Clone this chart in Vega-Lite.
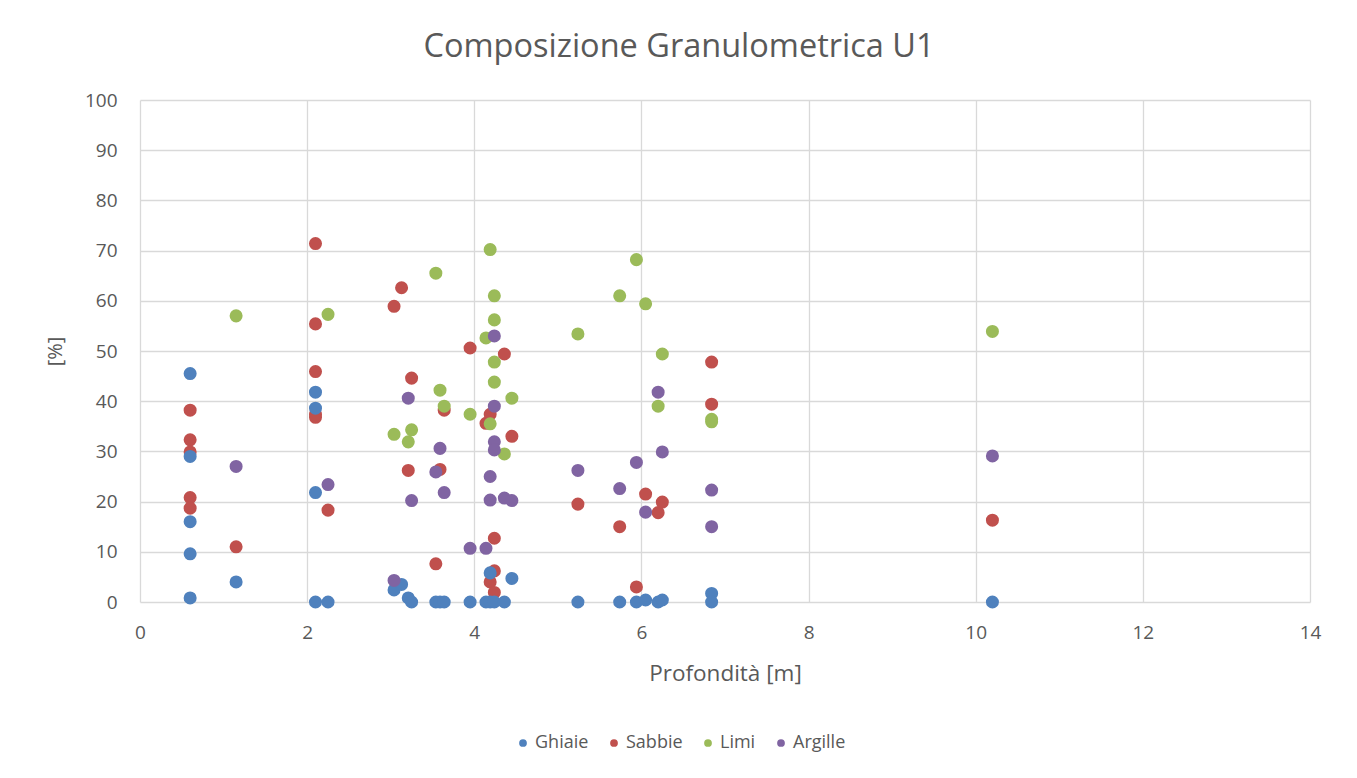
{
  "$schema": "https://vega.github.io/schema/vega-lite/v6.json",
  "autosize": {"type": "none"},
  "width": 1170,
  "height": 502,
  "padding": {"left": 140, "top": 100, "right": 47, "bottom": 176},
  "background": "white",
  "title": {"text": "Composizione Granulometrica U1", "font": "Open Sans", "fontSize": 32.5, "fontWeight": "normal", "color": "#595959", "anchor": "middle", "offset": 28, "dx": -46},
  "config": {
    "view": {"stroke": null},
    "font": "Open Sans",
    "axis": {"gridColor": "#d9d9d9", "gridWidth": 1.3, "domain": false, "ticks": false, "labelFlush": false, "labelColor": "#595959", "labelFontSize": 19, "titleColor": "#595959", "titleFontSize": 22.5, "titleFontWeight": "normal"}
  },
  "datasets": {
    "pts": [
      {"prof": 0.6, "pct": 45.5, "serie": "Ghiaie"},
      {"prof": 0.6, "pct": 29.0, "serie": "Ghiaie"},
      {"prof": 0.6, "pct": 16.0, "serie": "Ghiaie"},
      {"prof": 0.6, "pct": 9.6, "serie": "Ghiaie"},
      {"prof": 0.6, "pct": 0.8, "serie": "Ghiaie"},
      {"prof": 1.15, "pct": 4.0, "serie": "Ghiaie"},
      {"prof": 2.1, "pct": 41.8, "serie": "Ghiaie"},
      {"prof": 2.1, "pct": 38.6, "serie": "Ghiaie"},
      {"prof": 2.1, "pct": 21.8, "serie": "Ghiaie"},
      {"prof": 2.1, "pct": 0, "serie": "Ghiaie"},
      {"prof": 2.25, "pct": 0, "serie": "Ghiaie"},
      {"prof": 3.04, "pct": 2.4, "serie": "Ghiaie"},
      {"prof": 3.13, "pct": 3.5, "serie": "Ghiaie"},
      {"prof": 3.21, "pct": 0.8, "serie": "Ghiaie"},
      {"prof": 3.25, "pct": 0, "serie": "Ghiaie"},
      {"prof": 3.54, "pct": 0, "serie": "Ghiaie"},
      {"prof": 3.59, "pct": 0, "serie": "Ghiaie"},
      {"prof": 3.64, "pct": 0, "serie": "Ghiaie"},
      {"prof": 3.95, "pct": 0, "serie": "Ghiaie"},
      {"prof": 4.14, "pct": 0, "serie": "Ghiaie"},
      {"prof": 4.19, "pct": 5.8, "serie": "Ghiaie"},
      {"prof": 4.19, "pct": 0, "serie": "Ghiaie"},
      {"prof": 4.24, "pct": 0, "serie": "Ghiaie"},
      {"prof": 4.36, "pct": 0, "serie": "Ghiaie"},
      {"prof": 4.45, "pct": 4.7, "serie": "Ghiaie"},
      {"prof": 5.24, "pct": 0, "serie": "Ghiaie"},
      {"prof": 5.74, "pct": 0, "serie": "Ghiaie"},
      {"prof": 5.94, "pct": 0, "serie": "Ghiaie"},
      {"prof": 6.05, "pct": 0.4, "serie": "Ghiaie"},
      {"prof": 6.2, "pct": 0, "serie": "Ghiaie"},
      {"prof": 6.25, "pct": 0.4, "serie": "Ghiaie"},
      {"prof": 6.84, "pct": 1.7, "serie": "Ghiaie"},
      {"prof": 6.84, "pct": 0, "serie": "Ghiaie"},
      {"prof": 10.2, "pct": 0, "serie": "Ghiaie"},
      {"prof": 0.6, "pct": 38.2, "serie": "Sabbie"},
      {"prof": 0.6, "pct": 32.3, "serie": "Sabbie"},
      {"prof": 0.6, "pct": 29.9, "serie": "Sabbie"},
      {"prof": 0.6, "pct": 20.8, "serie": "Sabbie"},
      {"prof": 0.6, "pct": 18.7, "serie": "Sabbie"},
      {"prof": 1.15, "pct": 11.0, "serie": "Sabbie"},
      {"prof": 2.1, "pct": 71.4, "serie": "Sabbie"},
      {"prof": 2.1, "pct": 55.4, "serie": "Sabbie"},
      {"prof": 2.1, "pct": 45.9, "serie": "Sabbie"},
      {"prof": 2.1, "pct": 37.4, "serie": "Sabbie"},
      {"prof": 2.1, "pct": 36.8, "serie": "Sabbie"},
      {"prof": 2.25, "pct": 18.3, "serie": "Sabbie"},
      {"prof": 3.04, "pct": 58.9, "serie": "Sabbie"},
      {"prof": 3.13, "pct": 62.6, "serie": "Sabbie"},
      {"prof": 3.21, "pct": 26.2, "serie": "Sabbie"},
      {"prof": 3.25, "pct": 44.6, "serie": "Sabbie"},
      {"prof": 3.54, "pct": 7.6, "serie": "Sabbie"},
      {"prof": 3.59, "pct": 26.4, "serie": "Sabbie"},
      {"prof": 3.64, "pct": 38.2, "serie": "Sabbie"},
      {"prof": 3.95, "pct": 50.6, "serie": "Sabbie"},
      {"prof": 4.14, "pct": 35.6, "serie": "Sabbie"},
      {"prof": 4.19, "pct": 37.4, "serie": "Sabbie"},
      {"prof": 4.19, "pct": 4.0, "serie": "Sabbie"},
      {"prof": 4.24, "pct": 12.7, "serie": "Sabbie"},
      {"prof": 4.24, "pct": 6.2, "serie": "Sabbie"},
      {"prof": 4.24, "pct": 1.9, "serie": "Sabbie"},
      {"prof": 4.36, "pct": 49.4, "serie": "Sabbie"},
      {"prof": 4.45, "pct": 33.0, "serie": "Sabbie"},
      {"prof": 5.24, "pct": 19.5, "serie": "Sabbie"},
      {"prof": 5.74, "pct": 15.0, "serie": "Sabbie"},
      {"prof": 5.94, "pct": 3.0, "serie": "Sabbie"},
      {"prof": 6.05, "pct": 21.5, "serie": "Sabbie"},
      {"prof": 6.2, "pct": 17.8, "serie": "Sabbie"},
      {"prof": 6.25, "pct": 19.9, "serie": "Sabbie"},
      {"prof": 6.84, "pct": 47.8, "serie": "Sabbie"},
      {"prof": 6.84, "pct": 39.4, "serie": "Sabbie"},
      {"prof": 10.2, "pct": 16.3, "serie": "Sabbie"},
      {"prof": 1.15, "pct": 57.0, "serie": "Limi"},
      {"prof": 2.25, "pct": 57.3, "serie": "Limi"},
      {"prof": 3.04, "pct": 33.4, "serie": "Limi"},
      {"prof": 3.21, "pct": 31.9, "serie": "Limi"},
      {"prof": 3.25, "pct": 34.3, "serie": "Limi"},
      {"prof": 3.54, "pct": 65.5, "serie": "Limi"},
      {"prof": 3.59, "pct": 42.2, "serie": "Limi"},
      {"prof": 3.64, "pct": 39.0, "serie": "Limi"},
      {"prof": 3.95, "pct": 37.4, "serie": "Limi"},
      {"prof": 4.14, "pct": 52.6, "serie": "Limi"},
      {"prof": 4.19, "pct": 70.2, "serie": "Limi"},
      {"prof": 4.19, "pct": 35.5, "serie": "Limi"},
      {"prof": 4.24, "pct": 61.0, "serie": "Limi"},
      {"prof": 4.24, "pct": 56.2, "serie": "Limi"},
      {"prof": 4.24, "pct": 47.8, "serie": "Limi"},
      {"prof": 4.24, "pct": 43.8, "serie": "Limi"},
      {"prof": 4.36, "pct": 29.5, "serie": "Limi"},
      {"prof": 4.45, "pct": 40.6, "serie": "Limi"},
      {"prof": 5.24, "pct": 53.4, "serie": "Limi"},
      {"prof": 5.74, "pct": 61.0, "serie": "Limi"},
      {"prof": 5.94, "pct": 68.2, "serie": "Limi"},
      {"prof": 6.05, "pct": 59.4, "serie": "Limi"},
      {"prof": 6.2, "pct": 39.0, "serie": "Limi"},
      {"prof": 6.25, "pct": 49.4, "serie": "Limi"},
      {"prof": 6.84, "pct": 36.4, "serie": "Limi"},
      {"prof": 6.84, "pct": 35.9, "serie": "Limi"},
      {"prof": 10.2, "pct": 53.9, "serie": "Limi"},
      {"prof": 1.15, "pct": 27.0, "serie": "Argille"},
      {"prof": 2.25, "pct": 23.4, "serie": "Argille"},
      {"prof": 3.04, "pct": 4.3, "serie": "Argille"},
      {"prof": 3.21, "pct": 40.6, "serie": "Argille"},
      {"prof": 3.25, "pct": 20.2, "serie": "Argille"},
      {"prof": 3.54, "pct": 25.9, "serie": "Argille"},
      {"prof": 3.59, "pct": 30.6, "serie": "Argille"},
      {"prof": 3.64, "pct": 21.8, "serie": "Argille"},
      {"prof": 3.95, "pct": 10.7, "serie": "Argille"},
      {"prof": 4.14, "pct": 10.7, "serie": "Argille"},
      {"prof": 4.19, "pct": 25.0, "serie": "Argille"},
      {"prof": 4.19, "pct": 20.3, "serie": "Argille"},
      {"prof": 4.24, "pct": 53.0, "serie": "Argille"},
      {"prof": 4.24, "pct": 39.0, "serie": "Argille"},
      {"prof": 4.24, "pct": 31.9, "serie": "Argille"},
      {"prof": 4.24, "pct": 30.3, "serie": "Argille"},
      {"prof": 4.36, "pct": 20.7, "serie": "Argille"},
      {"prof": 4.45, "pct": 20.2, "serie": "Argille"},
      {"prof": 5.24, "pct": 26.2, "serie": "Argille"},
      {"prof": 5.74, "pct": 22.6, "serie": "Argille"},
      {"prof": 5.94, "pct": 27.8, "serie": "Argille"},
      {"prof": 6.05, "pct": 17.9, "serie": "Argille"},
      {"prof": 6.2, "pct": 41.8, "serie": "Argille"},
      {"prof": 6.25, "pct": 29.9, "serie": "Argille"},
      {"prof": 6.84, "pct": 22.3, "serie": "Argille"},
      {"prof": 6.84, "pct": 15.0, "serie": "Argille"},
      {"prof": 10.2, "pct": 29.1, "serie": "Argille"}
    ]
  },
  "data": {"name": "pts"},
  "mark": {"type": "circle", "size": 170, "opacity": 1},
  "encoding": {
    "x": {"field": "prof", "type": "quantitative", "scale": {"domain": [0, 14], "nice": false}, "axis": {"values": [0, 2, 4, 6, 8, 10, 12, 14], "labelPadding": 21, "title": "Profondità [m]", "titleX": 585, "titleY": 71, "titleBaseline": "middle", "titleAlign": "center"}},
    "y": {"field": "pct", "type": "quantitative", "scale": {"domain": [0, 100], "nice": false}, "axis": {"values": [0, 10, 20, 30, 40, 50, 60, 70, 80, 90, 100], "labelPadding": 23, "title": "[%]", "titleFontSize": 20, "titleX": -85, "titleY": 251, "titleAngle": -90, "titleAlign": "center", "titleBaseline": "middle"}},
    "color": {"field": "serie", "type": "nominal", "scale": {"domain": ["Ghiaie", "Sabbie", "Limi", "Argille"], "range": ["#4F81BD", "#C0504D", "#9BBB59", "#8064A2"]}, "legend": {"title": null, "orient": "none", "direction": "horizontal", "legendX": 374, "legendY": 634, "symbolType": "circle", "symbolSize": 60, "labelFontSize": 18, "labelOffset": 3, "labelColor": "#595959", "columnPadding": 16, "symbolOffset": 0}},
    "order": {"field": "serie", "sort": "descending"}
  }
}
